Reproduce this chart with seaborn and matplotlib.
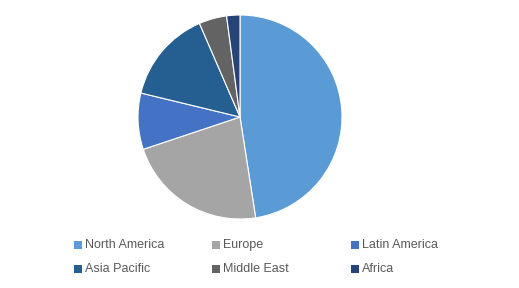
import matplotlib
matplotlib.use("Agg")
import matplotlib.pyplot as plt
import seaborn as sns
from matplotlib.patches import Rectangle

sns.set_theme(style="white")
plt.rcParams['font.family'] = ['Liberation Sans', 'DejaVu Sans']

regions = ["North America", "Europe", "Latin America", "Asia Pacific", "Middle East", "Africa"]
shares = [47.5, 22.3, 8.9, 14.7, 4.4, 2.1]
colors = ["#5B9BD5", "#A5A5A5", "#4472C4", "#255E91", "#636363", "#264478"]

W, H = 519, 288
fig = plt.figure(figsize=(W / 100, H / 100), dpi=100)
fig.patch.set_facecolor("white")

cx, cy, r = 240, 117, 102
ax = fig.add_axes([(cx - r) / W, (H - cy - r) / H, 2 * r / W, 2 * r / H])
ax.pie(shares, colors=colors, startangle=90, counterclock=False, radius=1,
       wedgeprops=dict(edgecolor="white", linewidth=0.8))
ax.set_xlim(-1.0, 1.0)
ax.set_ylim(-1.0, 1.0)
ax.set_aspect("equal")
ax.axis("off")

# legend: 3 columns x 2 rows
col_x = [74, 212, 351]
row_y = [245, 269]
for i, (name, c) in enumerate(zip(regions, colors)):
    x = col_x[i % 3]
    y = row_y[i // 3]
    fig.patches.append(Rectangle((x / W, (H - y - 3.75) / H), 7.5 / W, 7.5 / H,
                                 transform=fig.transFigure, facecolor=c,
                                 edgecolor="none"))
    fig.text((x + 11) / W, (H - y) / H, name, fontsize=9, color="#595959",
             va="center", ha="left")

fig.savefig("out.png", dpi=100, facecolor="white")
